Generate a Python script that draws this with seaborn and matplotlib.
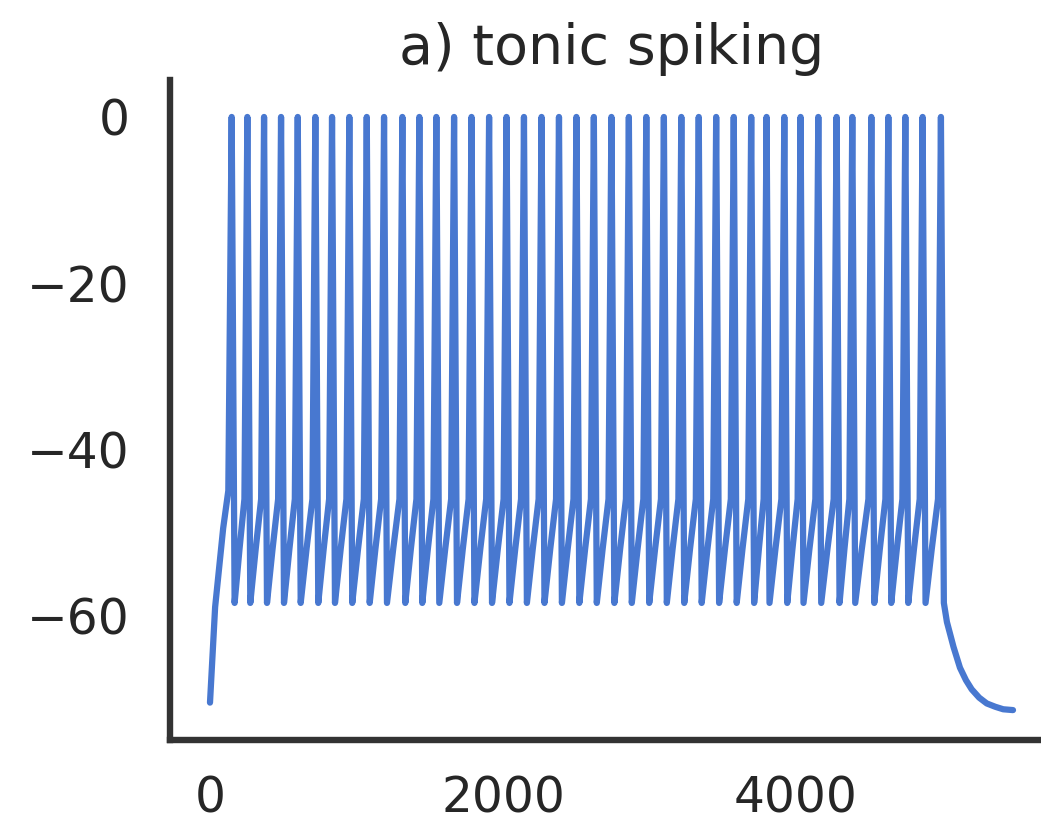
import matplotlib
matplotlib.use("Agg")
import matplotlib.pyplot as plt
import seaborn as sns

# spike times (ms)
spike_times = [148, 255, 369, 485, 599, 719, 833, 951, 1070, 1188, 1313, 1429, 1545,
               1666, 1785, 1905, 2024, 2143, 2263, 2382, 2501, 2620, 2740, 2859, 2978,
               3098, 3217, 3336, 3455, 3575, 3694,
               3799, 3920, 4031, 4152, 4277, 4384, 4514, 4630, 4746, 4864, 4989]
v_peak = 0.0
v_reset = -58.5
v_mid = -52.0
v_thresh = -46.0

# onset before first spike
onset_t = [0, 35, 90, 125]
onset_v = [-70.5, -59.0, -49.5, -45.0]

# decay after the stimulus ends
tail_t = [5030, 5075, 5119, 5160, 5199, 5250, 5302, 5360, 5414, 5481]
tail_v = [-60.8, -63.8, -66.3, -67.8, -68.9, -69.9, -70.6, -71.0, -71.3, -71.4]

x_ticks = [0, 2000, 4000]
y_ticks = [0, -20, -40, -60]
title = "a) tonic spiking"


def build_trace():
    t = list(onset_t)
    v = list(onset_v)
    for i, ts in enumerate(spike_times):
        t += [ts, ts + 20]
        v += [v_peak, v_reset]
        if i + 1 < len(spike_times):
            nxt = spike_times[i + 1]
            t += [(ts + nxt) / 2, nxt - 20]
            v += [v_mid, v_thresh]
    t += tail_t
    v += tail_v
    return t, v


sns.set_theme(style="white")
fig = plt.figure(figsize=(10.41, 8.24), dpi=100)
ax = fig.add_axes([170 / 1041, 84 / 824, 883 / 1041, 660 / 824])

t, v = build_trace()
sns.lineplot(x=t, y=v, sort=False, estimator=None, ax=ax,
             color=sns.color_palette("muted")[0], linewidth=4.5)

ax.set_xlim(-273, 5754)
ax.set_ylim(-75.0, 4.45)
ax.set_xticks(x_ticks)
ax.set_yticks(y_ticks)
ax.tick_params(axis="both", length=0, labelsize=35, colors=".15")
ax.tick_params(axis="x", pad=25)
ax.tick_params(axis="y", pad=29)
ax.set_title(title, fontsize=40, color=".15", pad=11.5)

sns.despine(ax=ax)
for side in ["left", "bottom"]:
    ax.spines[side].set_linewidth(4.6)
    ax.spines[side].set_color(".2")

fig.savefig("out.png", dpi=100)
